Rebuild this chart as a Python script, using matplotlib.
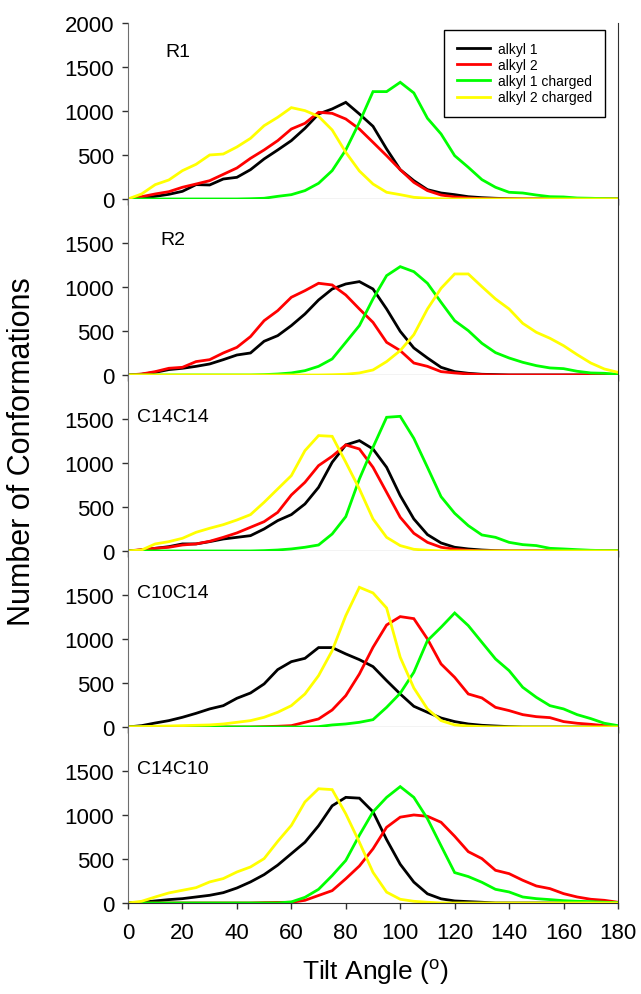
import matplotlib
matplotlib.use("Agg")
import matplotlib.pyplot as plt
import numpy as np

# tilt angle bins (degrees), one value every 5 degrees
angles = np.arange(0, 181, 5)

panel_names = ["R1", "R2", "C14C14", "C10C14", "C14C10"]
series_names = ["alkyl 1", "alkyl 2", "alkyl 1 charged", "alkyl 2 charged"]
colors = ["#000000", "#ff0000", "#00ff00", "#ffff00"]

# R1
r1_alkyl1 = [0, 11, 30, 53, 87, 163, 159, 227, 246, 333, 455, 557, 663, 803, 966, 1023, 1098, 966, 826,
             568, 333, 208, 106, 68, 49, 26, 15, 8, 3, 0, 0, 0, 0, 0, 0, 0, 0]
r1_alkyl2 = [0, 26, 57, 83, 133, 170, 208, 280, 352, 462, 557, 663, 795, 860, 985, 973, 909, 795, 644,
             492, 333, 189, 95, 45, 23, 11, 4, 0, 0, 0, 0, 0, 0, 0, 0, 0, 0]
r1_alkyl1_ch = [0, 0, 0, 0, 0, 0, 0, 0, 0, 3, 8, 30, 49, 95, 178, 322, 557, 871, 1220, 1220, 1326, 1205,
                917, 739, 492, 360, 220, 133, 76, 68, 45, 26, 23, 11, 8, 4, 0]
r1_alkyl2_ch = [0, 57, 163, 216, 322, 394, 500, 511, 591, 689, 833, 928, 1038, 1004, 939, 784, 530, 318,
                170, 76, 49, 19, 8, 3, 0, 0, 0, 0, 0, 0, 0, 0, 0, 0, 0, 0, 0]

# R2
r2_alkyl1 = [0, 8, 30, 61, 76, 98, 125, 174, 227, 250, 383, 447, 561, 693, 852, 977, 1034, 1061, 977,
             750, 496, 307, 193, 87, 38, 19, 8, 4, 0, 0, 0, 0, 0, 0, 0, 0, 0]
r2_alkyl2 = [0, 11, 38, 76, 87, 152, 174, 250, 314, 436, 617, 731, 883, 958, 1042, 1023, 909, 750, 598,
             371, 277, 136, 98, 38, 23, 11, 4, 0, 0, 0, 0, 0, 0, 0, 0, 0, 0]
r2_alkyl1_ch = [0, 0, 0, 0, 0, 0, 0, 0, 0, 0, 4, 11, 23, 49, 98, 182, 371, 561, 864, 1129, 1231, 1174,
                1042, 826, 617, 504, 360, 254, 193, 144, 106, 80, 72, 42, 23, 19, 8]
r2_alkyl2_ch = [0, 0, 0, 0, 0, 0, 0, 0, 0, 0, 0, 0, 0, 0, 0, 3, 8, 23, 57, 152, 277, 458, 750, 985,
                1148, 1148, 1004, 864, 750, 587, 485, 417, 333, 231, 136, 68, 30]

# C14C14
c1414_alkyl1 = [0, 11, 30, 49, 80, 80, 106, 136, 155, 174, 250, 345, 413, 534, 723, 1008, 1205, 1254,
                1159, 951, 629, 364, 186, 91, 42, 23, 11, 4, 0, 0, 0, 0, 0, 0, 0, 0, 0]
c1414_alkyl2 = [0, 15, 30, 42, 68, 80, 110, 155, 205, 269, 333, 439, 636, 780, 970, 1076, 1205, 1159,
                951, 667, 383, 201, 98, 42, 19, 8, 0, 0, 0, 0, 0, 0, 0, 0, 0, 0, 0]
c1414_alkyl1_ch = [0, 0, 0, 0, 0, 0, 0, 0, 0, 0, 4, 11, 23, 42, 68, 193, 390, 818, 1178, 1519, 1530,
                   1280, 951, 617, 428, 288, 182, 155, 98, 72, 61, 30, 23, 15, 8, 4, 4]
c1414_alkyl2_ch = [0, 11, 80, 106, 144, 212, 258, 299, 352, 413, 553, 705, 856, 1140, 1311, 1303, 1008,
                   705, 364, 155, 61, 19, 8, 0, 0, 0, 0, 0, 0, 0, 0, 0, 0, 0, 0, 0, 0]

# C10C14
c1014_alkyl1 = [0, 15, 45, 72, 110, 155, 205, 242, 326, 386, 489, 652, 742, 780, 902, 902, 830, 765,
                686, 527, 375, 235, 167, 102, 61, 34, 19, 11, 4, 0, 0, 0, 0, 0, 0, 0, 0]
c1014_alkyl2 = [0, 0, 0, 0, 0, 0, 0, 0, 0, 0, 4, 8, 15, 53, 91, 193, 356, 602, 905, 1159, 1254, 1231,
                1000, 716, 564, 375, 330, 223, 186, 140, 117, 106, 61, 42, 30, 15, 4]
c1014_alkyl1_ch = [0, 0, 0, 0, 0, 0, 0, 0, 0, 0, 0, 0, 0, 0, 4, 23, 34, 53, 83, 223, 383, 621, 981,
                   1133, 1295, 1152, 962, 773, 640, 451, 337, 242, 205, 140, 95, 42, 15]
c1014_alkyl2_ch = [0, 4, 8, 11, 15, 19, 23, 34, 53, 72, 110, 167, 242, 375, 583, 867, 1265, 1587, 1523,
                   1352, 792, 443, 205, 72, 23, 11, 4, 0, 0, 0, 0, 0, 0, 0, 0, 0, 0]

# C14C10
c1410_alkyl1 = [0, 8, 23, 38, 49, 68, 87, 117, 170, 239, 322, 430, 560, 690, 877, 1104, 1200, 1191,
                1036, 720, 440, 237, 104, 47, 23, 15, 8, 0, 0, 0, 0, 0, 0, 0, 0, 0, 0]
c1410_alkyl2 = [0, 0, 0, 0, 0, 0, 0, 0, 0, 0, 4, 6, 8, 30, 85, 140, 275, 420, 615, 860, 975, 1000, 985,
                917, 758, 583, 504, 371, 333, 258, 193, 163, 106, 68, 42, 30, 8]
c1410_alkyl1_ch = [0, 0, 0, 0, 0, 0, 0, 0, 0, 0, 0, 0, 12, 64, 155, 311, 483, 770, 1035, 1200, 1322,
                   1200, 958, 650, 345, 300, 235, 155, 125, 68, 49, 38, 26, 19, 15, 8, 4]
c1410_alkyl2_ch = [0, 19, 68, 114, 144, 174, 239, 277, 352, 409, 504, 700, 881, 1148, 1298, 1288, 1013,
                   690, 348, 123, 42, 19, 8, 0, 0, 0, 0, 0, 0, 0, 0, 0, 0, 0, 0, 0, 0]

panels = [
    [r1_alkyl1, r1_alkyl2, r1_alkyl1_ch, r1_alkyl2_ch],
    [r2_alkyl1, r2_alkyl2, r2_alkyl1_ch, r2_alkyl2_ch],
    [c1414_alkyl1, c1414_alkyl2, c1414_alkyl1_ch, c1414_alkyl2_ch],
    [c1014_alkyl1, c1014_alkyl2, c1014_alkyl1_ch, c1014_alkyl2_ch],
    [c1410_alkyl1, c1410_alkyl2, c1410_alkyl1_ch, c1410_alkyl2_ch],
]
# where the panel name sits (angle, count)
name_pos = [(13.6, 1680), (11.8, 1535), (3.3, 1525), (3.3, 1525), (3.3, 1525)]

plt.rcParams['font.family'] = ['Liberation Sans', 'DejaVu Sans']
plt.rcParams['mathtext.fontset'] = 'custom'
plt.rcParams['mathtext.rm'] = 'Liberation Sans'

fig, axes = plt.subplots(5, 1, figsize=(6.41, 9.95), dpi=100, sharex=True)
plt.subplots_adjust(left=0.1997, right=0.9641, bottom=0.0915, top=0.9759, hspace=0)

for i, ax in enumerate(axes):
    for vals, name, col in zip(panels[i], series_names, colors):
        ax.plot(angles, vals, color=col, lw=2.0, label=name, solid_joinstyle='miter')
    ax.set_xlim(0, 180)
    ax.set_ylim(0, 2000)
    ax.set_xticks(np.arange(0, 181, 20))
    if i == 0:
        ax.set_yticks([0, 500, 1000, 1500, 2000])
    else:
        ax.set_yticks([0, 500, 1000, 1500])
    ax.spines['top'].set_visible(False)
    ax.spines['left'].set_color('#6e6e6e')
    ax.spines['right'].set_color('#303030')
    ax.spines['bottom'].set_color('#303030')
    ax.tick_params(direction='out', length=4, width=1, color='#303030', labelsize=16)
    ax.tick_params(axis='y', pad=6)
    ax.tick_params(axis='x', pad=10)
    ax.text(name_pos[i][0], name_pos[i][1], panel_names[i], fontsize=14, va='center', ha='left')

axes[0].legend(loc='upper right', bbox_to_anchor=(0.9735, 0.962), borderaxespad=0, fontsize=10,
               frameon=True, fancybox=False, edgecolor='black', handlelength=2.4, handletextpad=0.6,
               labelspacing=0.15, borderpad=0.9, framealpha=1)
axes[0].get_legend().get_frame().set_linewidth(1.0)

fig.text(0.034, 0.546, 'Number of Conformations', rotation=90, fontsize=22, ha='center', va='center')
fig.text(0.585, 0.0231, 'Tilt Angle ($^{\\mathrm{o}}$)', fontsize=19, ha='center', va='center')

plt.savefig('out.png', dpi=100)
